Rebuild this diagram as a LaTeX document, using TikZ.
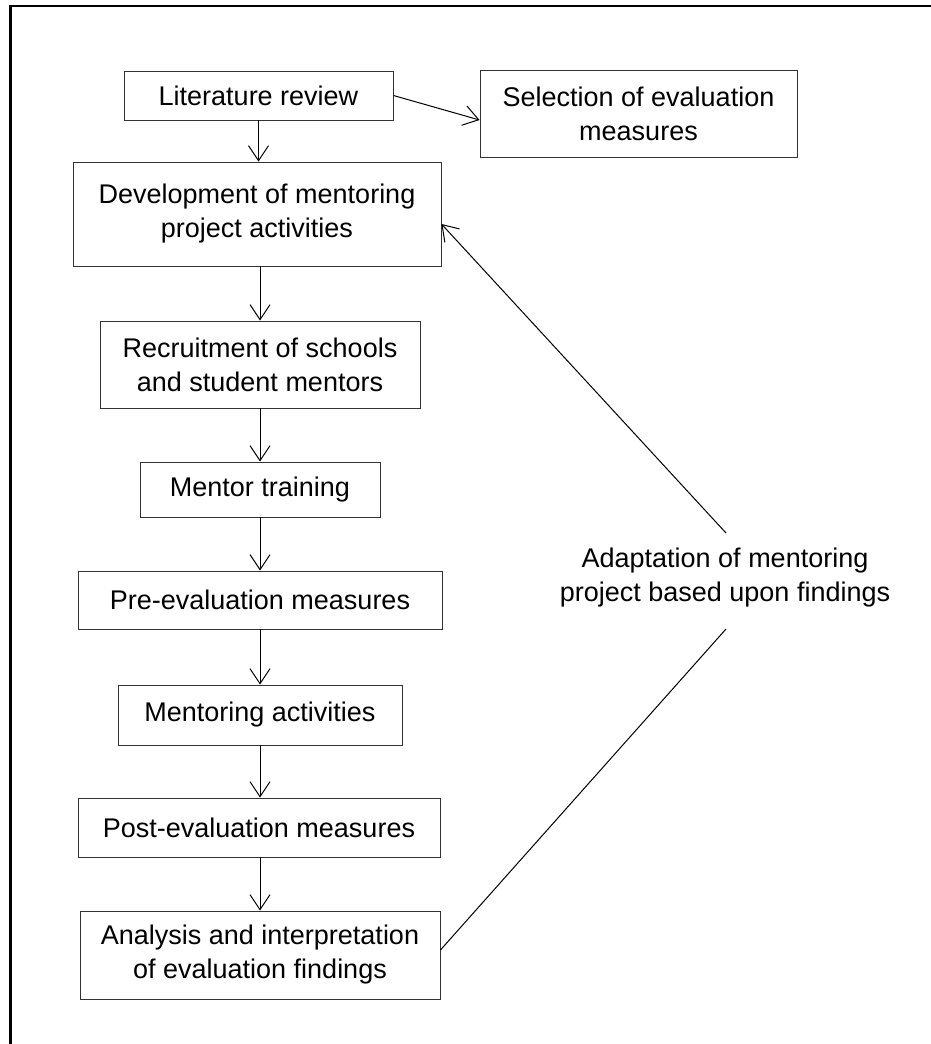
\documentclass[tikz,border=0pt]{standalone}
\usepackage{fontspec}
\setmainfont{Liberation Sans}
\usetikzlibrary{arrows.meta}
\begin{document}
\begin{tikzpicture}[x=1pt,y=-1pt,
  box/.style={draw=black!80,line width=0.9pt,inner sep=0pt,align=center,
    font=\fontsize{27}{34}\selectfont},
  lbl/.style={inner sep=0pt,align=center,font=\fontsize{27}{34}\selectfont},
  arr/.style={line width=1pt,-{Straight Barb[length=15pt,width=20pt]}},
  ln/.style={line width=1pt}]
\useasboundingbox (0,0) rectangle (930,1044);
\draw[line width=2.5pt] (10.7,1060) -- (10.7,6) -- (945,6);
\node[box,minimum width=269,minimum height=49] (lit) at (258.5,95.5) {Literature review};
\node[box,minimum width=317,minimum height=87] (sel) at (638.5,113.5) {Selection of evaluation\\measures};
\node[box,minimum width=368,minimum height=104] (dev) at (257,214) {Development of mentoring\\project activities};
\node[box,minimum width=320,minimum height=87] (rec) at (260,364.5) {Recruitment of schools\\and student mentors};
\node[box,minimum width=240,minimum height=55] (mt) at (260,489.5) {Mentor training};
\node[box,minimum width=364,minimum height=58] (pre) at (260,600) {Pre-evaluation measures};
\node[box,minimum width=284,minimum height=60] (ma) at (260,715) {Mentoring activities};
\node[box,minimum width=362,minimum height=59] (post) at (259,827.5) {Post-evaluation measures};
\node[box,minimum width=360,minimum height=88] (ana) at (260,955) {Analysis and interpretation\\of evaluation findings};
\node[lbl] (adp) at (725,578) {Adaptation of mentoring\\project based upon findings};
\coordinate (adtop) at (726,533);
\coordinate (adbot) at (726,629);
\draw[arr] (lit.east) -- ([yshift=-6.5pt]sel.west);
\draw[arr] (lit.south) -- (lit.south |- dev.north);
\draw[arr] (rec.north |- dev.south) -- (rec.north);
\draw[arr] (rec.south) -- (mt.north);
\draw[arr] (mt.south) -- (pre.north);
\draw[arr] (pre.south) -- (ma.north);
\draw[arr] (ma.south) -- (ma.south |- post.north);
\draw[arr] (ma.south |- post.south) -- (ma.south |- ana.north);
\draw[ln] ([yshift=5pt]ana.east) -- (adbot);
\draw[arr] (adtop) -- ([yshift=-10pt]dev.east);
\end{tikzpicture}
\end{document}
